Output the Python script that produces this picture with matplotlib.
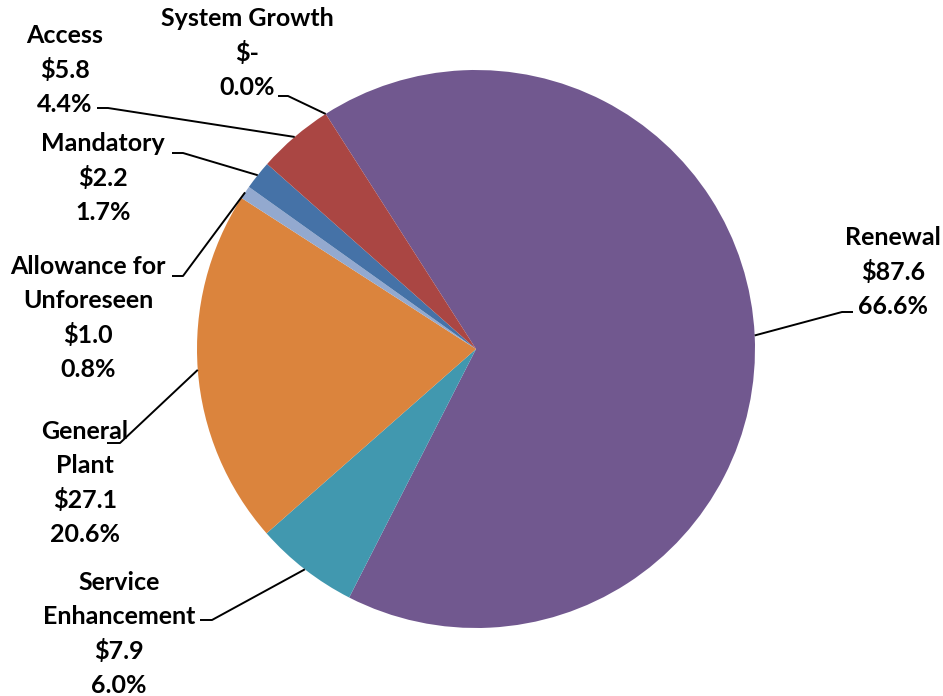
import numpy as np
import matplotlib
matplotlib.use('Agg')
from matplotlib import pyplot as plt

# capital spend by category, $ millions
categories = ['Renewal', 'Service\nEnhancement', 'General\nPlant',
              'Allowance for\nUnforeseen', 'Mandatory', 'Access', 'System Growth']
values = [87.6, 7.9, 27.1, 1.0, 2.2, 5.8, 0.0]
colors = ['#71588F', '#4198AF', '#DB843D', '#93A9CF', '#4572A7', '#AA4643', '#4572A7']

# label block centres and leader elbows, in pixels from the top-left corner
label_xy = [(893, 272), (119, 634), (85, 483), (88, 318), (103, 178), (65, 70), (247, 53)]
elbows = [[(853, 312), (842, 312)], [(200, 620), (212, 620)], [(107, 443), (120, 443)],
          [(172, 276), (183, 276)], [(172, 153), (183, 153)], [(97, 108), (108, 108)],
          [(278, 96), (288, 96)]]

W, H = 943, 696
CX, CY, R = 476, 349, 279

fig = plt.figure(figsize=(W / 100, H / 100), dpi=100)
ax = fig.add_axes([0, 0, 1, 1])

total = sum(values)
wedges, _ = ax.pie(values, colors=colors, startangle=122.6, counterclock=False,
                   center=(CX, H - CY), radius=R,
                   wedgeprops=dict(linewidth=0))

for wedge, name, v, (tx, ty), elbow in zip(wedges, categories, values, label_xy, elbows):
    # leader starts at the middle of the wedge's rim
    mid = np.deg2rad((wedge.theta1 + wedge.theta2) / 2)
    ax_ = CX + R * np.cos(mid)
    ay_ = (H - CY) + R * np.sin(mid)
    xs = [p[0] for p in elbow] + [ax_]
    ys = [H - p[1] for p in elbow] + [ay_]
    ax.plot(xs, ys, color='black', lw=1.4, solid_capstyle='butt')

    money = '$-' if v == 0 else f'${v:.1f}'
    label = f'{name}\n{money}\n{v / total * 100:.1f}%'
    ax.text(tx, H - ty, label, ha='center', va='center', multialignment='center',
            fontsize=18, fontweight='bold', family='Lato', linespacing=1.56,
            parse_math=False)

ax.set_xlim(0, W)
ax.set_ylim(0, H)
ax.set_aspect('equal')
ax.axis('off')

fig.savefig('out.png', dpi=100)
